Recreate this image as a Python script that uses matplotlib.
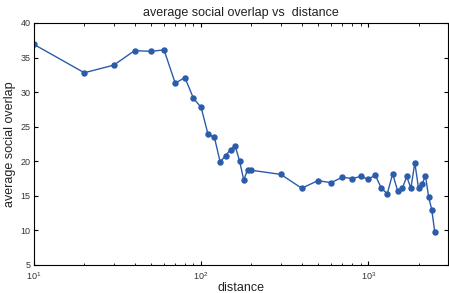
import matplotlib
matplotlib.use('Agg')
import matplotlib.pyplot as plt

plt.rcParams['font.family'] = ['Liberation Sans', 'DejaVu Sans']

distance = [10, 20, 30, 40, 50, 60, 70, 80, 90, 100,
            110, 120, 130, 140, 150, 160, 170, 180, 190, 200,
            300, 400, 500, 600, 700, 800, 900, 1000,
            1100, 1200, 1300, 1400, 1500, 1600, 1700, 1800, 1900,
            2000, 2100, 2200, 2300, 2400, 2500]
overlap = [36.9, 32.8, 33.9, 36.0, 35.9, 36.1, 31.3, 32.1, 29.1, 27.8,
           23.9, 23.5, 19.9, 20.8, 21.7, 22.2, 20.0, 17.3, 18.8, 18.7,
           18.1, 16.1, 17.2, 16.9, 17.7, 17.5, 17.8, 17.4,
           18.0, 16.1, 15.3, 18.2, 15.7, 16.1, 17.8, 16.1, 19.8,
           16.1, 16.7, 17.9, 14.8, 13.0, 9.8]

fig = plt.figure(figsize=(4.49, 2.93), dpi=100)
ax = fig.add_axes([0.0757, 0.0956, 0.922, 0.826])

ax.plot(distance, overlap, '-o', color='#2a5caa', lw=1.0, ms=3.6)
ax.set_xscale('log')
ax.set_xlim(10, 3000)
ax.set_ylim(5, 40)
ax.set_yticks(range(5, 41, 5))

ax.tick_params(which='both', direction='in', top=True, right=True,
               labelsize=6.5, labelcolor='#333333')
ax.tick_params(axis='x', pad=3.5)
ax.tick_params(axis='y', pad=2.5)
ax.tick_params(which='major', length=3)
ax.tick_params(which='minor', length=1.8)
for s in ax.spines.values():
    s.set_linewidth(0.8)

ax.set_title('average social overlap vs  distance', fontsize=9, pad=5, color='#222222')
ax.set_xlabel('distance', fontsize=9, labelpad=0, color='#222222')
ax.set_ylabel('average social overlap', fontsize=9, labelpad=3, color='#222222')

fig.savefig('out.png', dpi=100)
